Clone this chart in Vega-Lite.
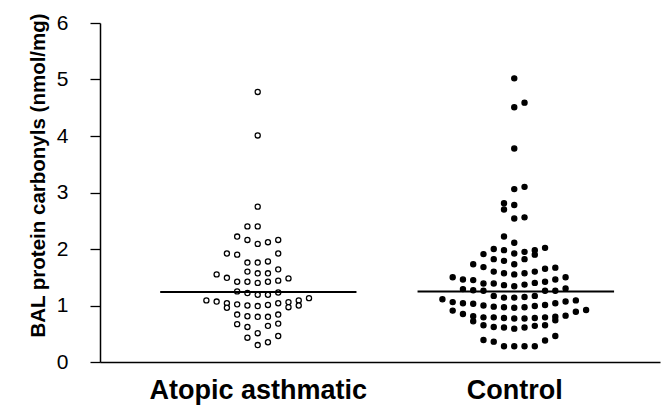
{
  "$schema": "https://vega.github.io/schema/vega-lite/v6.json",
  "width": 560,
  "height": 339,
  "autosize": "none",
  "padding": {"left": 100, "top": 23, "right": 7, "bottom": 47},
  "background": "white",
  "config": {"view": {"stroke": null}, "font": "Liberation Sans"},
  "datasets": {
    "dots": [
      {"g":"A","x":1.00,"v":4.78},{"g":"A","x":1.00,"v":4.01},{"g":"A","x":1.00,"v":2.75},{"g":"A","x":0.96,"v":2.40},{"g":"A","x":1.00,"v":2.40},
      {"g":"A","x":0.92,"v":2.22},{"g":"A","x":0.96,"v":2.16},{"g":"A","x":1.00,"v":2.09},{"g":"A","x":1.04,"v":2.12},{"g":"A","x":1.08,"v":2.16},
      {"g":"A","x":0.88,"v":1.92},{"g":"A","x":0.92,"v":1.90},{"g":"A","x":1.08,"v":1.92},
      {"g":"A","x":0.96,"v":1.76},{"g":"A","x":1.00,"v":1.76},{"g":"A","x":1.04,"v":1.78},
      {"g":"A","x":0.96,"v":1.60},{"g":"A","x":1.00,"v":1.57},{"g":"A","x":1.04,"v":1.57},{"g":"A","x":1.08,"v":1.64},
      {"g":"A","x":0.84,"v":1.55},{"g":"A","x":0.88,"v":1.49},{"g":"A","x":0.92,"v":1.42},{"g":"A","x":0.96,"v":1.42},{"g":"A","x":1.00,"v":1.40},{"g":"A","x":1.04,"v":1.42},{"g":"A","x":1.08,"v":1.44},{"g":"A","x":1.12,"v":1.48},
      {"g":"A","x":0.92,"v":1.25},{"g":"A","x":0.96,"v":1.22},{"g":"A","x":1.00,"v":1.19},{"g":"A","x":1.04,"v":1.19},{"g":"A","x":1.08,"v":1.23},
      {"g":"A","x":0.80,"v":1.09},{"g":"A","x":0.84,"v":1.07},{"g":"A","x":0.88,"v":1.04},{"g":"A","x":0.88,"v":0.96},{"g":"A","x":0.92,"v":1.02},{"g":"A","x":0.96,"v":1.00},{"g":"A","x":1.00,"v":0.99},{"g":"A","x":1.04,"v":1.01},{"g":"A","x":1.08,"v":1.04},{"g":"A","x":1.12,"v":1.06},{"g":"A","x":1.12,"v":0.97},{"g":"A","x":1.16,"v":1.09},{"g":"A","x":1.16,"v":1.00},{"g":"A","x":1.20,"v":1.13},
      {"g":"A","x":0.92,"v":0.84},{"g":"A","x":0.96,"v":0.81},{"g":"A","x":1.00,"v":0.80},{"g":"A","x":1.04,"v":0.80},{"g":"A","x":1.08,"v":0.84},
      {"g":"A","x":0.92,"v":0.67},{"g":"A","x":0.96,"v":0.62},{"g":"A","x":1.04,"v":0.64},{"g":"A","x":1.08,"v":0.68},
      {"g":"A","x":1.00,"v":0.51},{"g":"A","x":0.96,"v":0.43},{"g":"A","x":1.08,"v":0.46},{"g":"A","x":1.00,"v":0.30},{"g":"A","x":1.04,"v":0.35},
      {"g":"C","x":2.00,"v":5.02},{"g":"C","x":2.00,"v":4.51},{"g":"C","x":2.04,"v":4.59},{"g":"C","x":2.00,"v":3.78},{"g":"C","x":2.00,"v":3.06},{"g":"C","x":2.04,"v":3.10},{"g":"C","x":1.96,"v":2.81},{"g":"C","x":1.96,"v":2.70},{"g":"C","x":2.00,"v":2.78},{"g":"C","x":2.00,"v":2.54},{"g":"C","x":2.04,"v":2.56},{"g":"C","x":1.96,"v":2.22},{"g":"C","x":2.00,"v":2.11},
      {"g":"C","x":1.88,"v":1.91},{"g":"C","x":1.92,"v":2.00},{"g":"C","x":1.96,"v":1.98},{"g":"C","x":2.00,"v":1.92},{"g":"C","x":2.04,"v":1.95},{"g":"C","x":2.08,"v":1.98},{"g":"C","x":2.08,"v":1.90},{"g":"C","x":2.12,"v":2.02},
      {"g":"C","x":1.84,"v":1.73},{"g":"C","x":1.88,"v":1.68},{"g":"C","x":1.92,"v":1.82},{"g":"C","x":1.96,"v":1.79},{"g":"C","x":2.00,"v":1.73},{"g":"C","x":2.04,"v":1.82},
      {"g":"C","x":1.92,"v":1.60},{"g":"C","x":1.96,"v":1.57},{"g":"C","x":2.00,"v":1.55},{"g":"C","x":2.04,"v":1.57},{"g":"C","x":2.08,"v":1.60},{"g":"C","x":2.12,"v":1.65},{"g":"C","x":2.16,"v":1.67},
      {"g":"C","x":1.76,"v":1.50},{"g":"C","x":1.80,"v":1.46},{"g":"C","x":1.84,"v":1.45},{"g":"C","x":1.88,"v":1.39},{"g":"C","x":1.92,"v":1.39},{"g":"C","x":1.96,"v":1.36},{"g":"C","x":2.00,"v":1.34},{"g":"C","x":2.04,"v":1.37},{"g":"C","x":2.08,"v":1.40},{"g":"C","x":2.12,"v":1.42},{"g":"C","x":2.16,"v":1.46},{"g":"C","x":2.20,"v":1.50},
      {"g":"C","x":1.80,"v":1.29},{"g":"C","x":1.84,"v":1.27},{"g":"C","x":1.88,"v":1.26},{"g":"C","x":1.92,"v":1.17},{"g":"C","x":1.96,"v":1.14},{"g":"C","x":2.00,"v":1.14},{"g":"C","x":2.04,"v":1.15},{"g":"C","x":2.08,"v":1.17},{"g":"C","x":2.12,"v":1.26},{"g":"C","x":2.16,"v":1.26},{"g":"C","x":2.20,"v":1.30},
      {"g":"C","x":1.72,"v":1.11},{"g":"C","x":1.76,"v":1.06},{"g":"C","x":1.80,"v":1.04},{"g":"C","x":1.84,"v":1.03},{"g":"C","x":1.88,"v":1.00},{"g":"C","x":1.92,"v":0.98},{"g":"C","x":1.96,"v":0.97},{"g":"C","x":2.00,"v":0.96},{"g":"C","x":2.04,"v":0.97},{"g":"C","x":2.08,"v":0.99},{"g":"C","x":2.12,"v":1.01},{"g":"C","x":2.16,"v":1.04},{"g":"C","x":2.20,"v":1.07},{"g":"C","x":2.24,"v":1.09},
      {"g":"C","x":1.76,"v":0.91},{"g":"C","x":1.80,"v":0.85},{"g":"C","x":1.84,"v":0.81},{"g":"C","x":1.84,"v":0.72},{"g":"C","x":1.88,"v":0.79},{"g":"C","x":1.92,"v":0.79},{"g":"C","x":1.96,"v":0.78},{"g":"C","x":2.00,"v":0.77},{"g":"C","x":2.04,"v":0.77},{"g":"C","x":2.08,"v":0.78},{"g":"C","x":2.12,"v":0.79},{"g":"C","x":2.16,"v":0.80},{"g":"C","x":2.16,"v":0.74},{"g":"C","x":2.20,"v":0.82},{"g":"C","x":2.24,"v":0.89},{"g":"C","x":2.28,"v":0.92},
      {"g":"C","x":1.88,"v":0.65},{"g":"C","x":1.92,"v":0.62},{"g":"C","x":1.96,"v":0.61},{"g":"C","x":2.00,"v":0.59},{"g":"C","x":2.04,"v":0.61},{"g":"C","x":2.08,"v":0.64},{"g":"C","x":2.12,"v":0.65},
      {"g":"C","x":2.16,"v":0.46},{"g":"C","x":2.12,"v":0.38},
      {"g":"C","x":1.88,"v":0.39},{"g":"C","x":1.92,"v":0.36},{"g":"C","x":1.96,"v":0.28},{"g":"C","x":2.00,"v":0.28},{"g":"C","x":2.04,"v":0.28},{"g":"C","x":2.08,"v":0.28}
    ],
    "means": [
      {"g":"A","x1":0.62,"x2":1.385,"mean":1.24},
      {"g":"C","x1":1.623,"x2":2.389,"mean":1.25}
    ]
  },
  "layer": [
    {
      "data": {"name": "dots"},
      "mark": {"type": "point", "shape": "circle", "filled": true, "size": 26, "stroke": "black", "strokeWidth": 1.3, "opacity": 1},
      "encoding": {
        "x": {
          "field": "x", "type": "quantitative",
          "scale": {"domain": [0.3854, 2.568], "nice": false, "zero": false},
          "axis": {
            "values": [1, 2],
            "labelExpr": "datum.value == 1 ? 'Atopic asthmatic' : 'Control'",
            "ticks": false, "grid": false, "title": null,
            "domainColor": "black", "domainWidth": 1.5,
            "labelFontSize": 27, "labelFontWeight": "bold", "labelColor": "black",
            "labelPadding": 15, "labelLimit": 0, "labelFlush": false, "labelOverlap": false, "labelBound": false
          }
        },
        "y": {
          "field": "v", "type": "quantitative",
          "scale": {"domain": [0, 6], "nice": false},
          "axis": {
            "values": [0, 1, 2, 3, 4, 5, 6], "format": "d",
            "grid": false, "tickSize": 10, "tickColor": "black", "tickWidth": 1.3,
            "domainColor": "black", "domainWidth": 1.5,
            "labelFontSize": 21, "labelPadding": 22, "labelColor": "black", "labelFlush": false, "labelOverlap": false,
            "title": "BAL protein carbonyls (nmol/mg)",
            "titleFontSize": 20.5, "titleFontWeight": "bold", "titleColor": "black",
            "titleX": -62, "titleY": 152, "titleAngle": -90, "titleBaseline": "middle", "titleAlign": "center"
          }
        },
        "fill": {
          "field": "g", "type": "nominal",
          "scale": {"domain": ["A", "C"], "range": ["#ffffff", "#000000"]},
          "legend": null
        }
      }
    },
    {
      "data": {"name": "means"},
      "mark": {"type": "rule", "color": "black", "strokeWidth": 2},
      "encoding": {
        "x": {"field": "x1", "type": "quantitative"},
        "x2": {"field": "x2"},
        "y": {"field": "mean", "type": "quantitative"}
      }
    }
  ]
}
